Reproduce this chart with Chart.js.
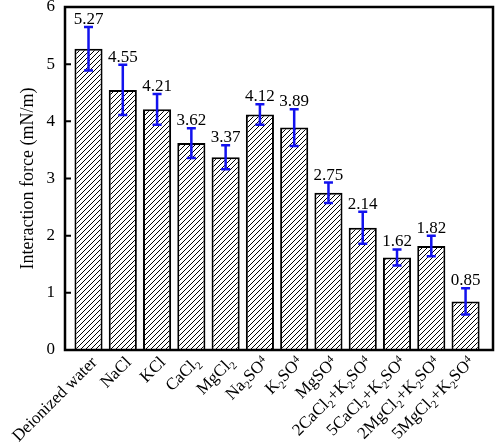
<!DOCTYPE html>
<html>
<head>
<meta charset="utf-8">
<script src="https://cdn.jsdelivr.net/npm/chart.js@4.4.1/dist/chart.umd.min.js"></script>
<style>
  html, body { margin: 0; padding: 0; background: #fff; }
  #wrap { width: 496px; height: 444px; }
</style>
</head>
<body>
<div id="wrap"><canvas id="c" width="496" height="444"></canvas></div>
<script>
/* data: _x = subscript, ^x = raised small digit */
const categories = ['Deionized water', 'NaCl', 'KCl', 'CaCl_2', 'MgCl_2', 'Na_2SO^4', 'K_2SO^4', 'MgSO^4',
  '2CaCl_2+K_2SO^4', '5CaCl_2+K_2SO^4', '2MgCl_2+K_2SO^4', '5MgCl_2+K_2SO^4'];
const forces = [5.27, 4.55, 4.21, 3.62, 3.37, 4.12, 3.89, 2.75, 2.14, 1.62, 1.82, 0.85];
const errors = [0.38, 0.44, 0.27, 0.26, 0.21, 0.18, 0.32, 0.18, 0.28, 0.14, 0.18, 0.23];
const yTicks = [0, 1, 2, 3, 4, 5, 6];

const SERIF = '"Liberation Serif", "Times New Roman", serif';
const ERR_BLUE = '#1212ee';

// diagonal hatching for the bars
function makeHatch() {
  const s = 5, c = document.createElement('canvas');
  c.width = s; c.height = s;
  const g = c.getContext('2d');
  g.fillStyle = '#fff'; g.fillRect(0, 0, s, s);
  g.strokeStyle = '#000'; g.lineWidth = 1;
  g.beginPath();
  [-s, 0, s].forEach((o) => { g.moveTo(o, s); g.lineTo(o + s, 0); });
  g.stroke();
  return g.createPattern(c, 'repeat');
}

function splitLabel(label) {
  const out = [];
  let i = 0;
  while (i < label.length) {
    const ch = label[i];
    if (ch === '_' || ch === '^') { out.push({ t: label[i + 1], k: ch }); i += 2; continue; }
    let j = i;
    while (j < label.length && label[j] !== '_' && label[j] !== '^') j++;
    out.push({ t: label.slice(i, j), k: '' });
    i = j;
  }
  return out;
}

// error bars + value labels above them
const errorBars = {
  id: 'errorBars',
  afterDatasetsDraw(chart) {
    const { ctx, scales: { y } } = chart;
    const meta = chart.getDatasetMeta(0);
    ctx.save();
    meta.data.forEach((bar, i) => {
      const top = y.getPixelForValue(forces[i] + errors[i]);
      const bot = y.getPixelForValue(forces[i] - errors[i]);
      ctx.strokeStyle = ERR_BLUE; ctx.lineWidth = 2.5;
      ctx.beginPath();
      ctx.moveTo(bar.x, top); ctx.lineTo(bar.x, bot);
      ctx.moveTo(bar.x - 4.5, top); ctx.lineTo(bar.x + 4.5, top);
      ctx.moveTo(bar.x - 4.5, bot); ctx.lineTo(bar.x + 4.5, bot);
      ctx.stroke();
      ctx.fillStyle = '#000';
      ctx.font = '17px ' + SERIF;
      ctx.textAlign = 'center'; ctx.textBaseline = 'alphabetic';
      ctx.fillText(forces[i].toFixed(2), bar.x, top - 3);
    });
    ctx.restore();
  }
};

// box frame, inward y ticks, rotated x labels with subscripts
const frame = {
  id: 'frame',
  afterDraw(chart) {
    const { ctx, chartArea: a, scales: { y } } = chart;
    ctx.save();
    ctx.strokeStyle = '#000'; ctx.lineWidth = 2.5;
    ctx.strokeRect(a.left, a.top, a.right - a.left, a.bottom - a.top);
    ctx.lineWidth = 2;
    ctx.beginPath();
    yTicks.forEach((v) => {
      const py = y.getPixelForValue(v);
      ctx.moveTo(a.left, py); ctx.lineTo(a.left + 6, py);
    });
    ctx.stroke();

    const meta = chart.getDatasetMeta(0);
    ctx.fillStyle = '#000';
    ctx.textBaseline = 'alphabetic'; ctx.textAlign = 'left';
    meta.data.forEach((bar, i) => {
      const segs = splitLabel(categories[i]);
      const widths = segs.map((s) => {
        ctx.font = (s.k ? '11px ' : '17px ') + SERIF;
        return ctx.measureText(s.t).width;
      });
      const total = widths.reduce((p, w) => p + w, 0);
      ctx.save();
      ctx.translate(bar.x + 5, a.bottom + 9);
      ctx.rotate(-Math.PI / 4);
      let x = -total;
      segs.forEach((s, k) => {
        ctx.font = (s.k ? '11px ' : '17px ') + SERIF;
        const dy = s.k === '_' ? 10 : s.k === '^' ? 1 : 6;
        ctx.fillText(s.t, x, dy);
        x += widths[k];
      });
      ctx.restore();
    });
    ctx.restore();
  }
};

new Chart(document.getElementById('c'), {
  type: 'bar',
  data: {
    datasets: [{
      data: forces.map((v, i) => ({ x: i + 1, y: v })),
      backgroundColor: makeHatch(),
      borderColor: '#000',
      borderWidth: 2,
      barPercentage: 0.82,
      categoryPercentage: 1,
    }]
  },
  options: {
    responsive: false,
    animation: false,
    layout: { padding: { top: 7, right: 3, left: 0, bottom: 0 } },
    plugins: { legend: { display: false }, tooltip: { enabled: false } },
    scales: {
      x: {
        type: 'linear',
        min: 0.314, max: 12.8,
        offset: false,
        grid: { display: false },
        border: { display: false },
        ticks: { display: false },
        afterFit: (s) => { s.height = 94; s.paddingLeft = 0; s.paddingRight = 0; },
      },
      y: {
        min: 0, max: 6,
        grid: { display: false, drawTicks: false },
        border: { display: false },
        ticks: { stepSize: 1, padding: 10, color: '#000', font: { family: SERIF, size: 17 } },
        title: {
          display: true, text: 'Interaction force (mN/m)', color: '#000',
          font: { family: SERIF, size: 18 }, padding: { top: 17, bottom: 0 },
        },
        afterFit: (s) => { s.width = 65; s.paddingTop = 0; s.paddingBottom = 0; },
      }
    }
  },
  plugins: [errorBars, frame]
});
</script>
</body>
</html>
